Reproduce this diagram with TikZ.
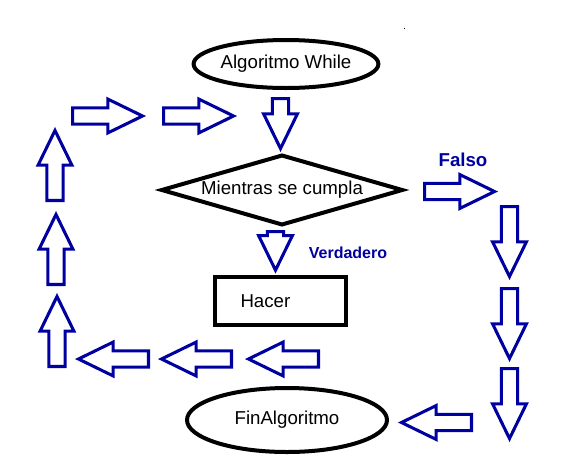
\documentclass[tikz,border=0pt]{standalone}
\usepackage{fontspec}
\setmainfont{Liberation Sans}
\usetikzlibrary{shapes.geometric,shapes.arrows}
\definecolor{arrowblue}{RGB}{0,0,160}
\tikzset{
  blockarrow/.style={single arrow, draw=arrowblue, line width=2.3pt,
    inner xsep=0pt, inner ysep=5pt, single arrow head extend=6.5pt,
    single arrow tip angle=52, minimum height=#1, anchor=tail},
  blockarrow/.default=52.5pt,
  flowbox/.style={draw=black, line width=3pt, inner sep=0pt,
    font=\fontsize{14}{17}\selectfont},
  tagtext/.style={text=arrowblue, font=\bfseries\fontsize{#1}{16}\selectfont},
  tagtext/.default=14
}
\begin{document}
\begin{tikzpicture}[x=0.75pt, y=-0.75pt]
  \useasboundingbox (0,0) rectangle (573,468);

  % Flowchart blocks
  \node[flowbox, ellipse, minimum width=136.5pt, minimum height=36pt] (inicio) at (286,64) {Algoritmo While};
  \node[flowbox, diamond, aspect=3.4, minimum width=181.5pt, minimum height=53pt] (mientras) at (282,190) {Mientras se cumpla};
  \node[flowbox, rectangle, minimum height=36pt, inner xsep=19pt, text width=60pt, align=left] (hacer) at (280.5,301) {Hacer};
  \node[flowbox, ellipse, minimum width=150pt, minimum height=48pt] (fin) at (287,420) {FinAlgoritmo};

  % Block arrows (placed by their tails)
  \node[blockarrow=37.5pt, rotate=-90] (bajada1) at (280.5,97) {};
  \node[blockarrow=29pt, rotate=-90] (bajada2) at (275.5,230) {};
  \node[blockarrow] (falsoflecha) at (423,191.5) {};
  \foreach \y [count=\i] in {205,287,367}
    \node[blockarrow, rotate=-90] (derecha\i) at (509.5,\y) {};
  \node[blockarrow, rotate=180] (salida) at (473,422.5) {};
  \foreach \x [count=\i] in {320,233,150}
    \node[blockarrow, rotate=180] (abajo\i) at (\x,359) {};
  \foreach \x/\y [count=\i] in {57/368,56/286,55/202}
    \node[blockarrow, rotate=90] (izquierda\i) at (\x,\y) {};
  \foreach \x [count=\i] in {71,162}
    \node[blockarrow] (arriba\i) at (\x,116) {};

  % Branch labels
  \node[tagtext] (falso) at (463,160) {Falso};
  \node[tagtext=12] (verdadero) at (348,253) {Verdadero};

  % Speck
  \fill (403.5,27.5) rectangle (405,29);
\end{tikzpicture}
\end{document}
